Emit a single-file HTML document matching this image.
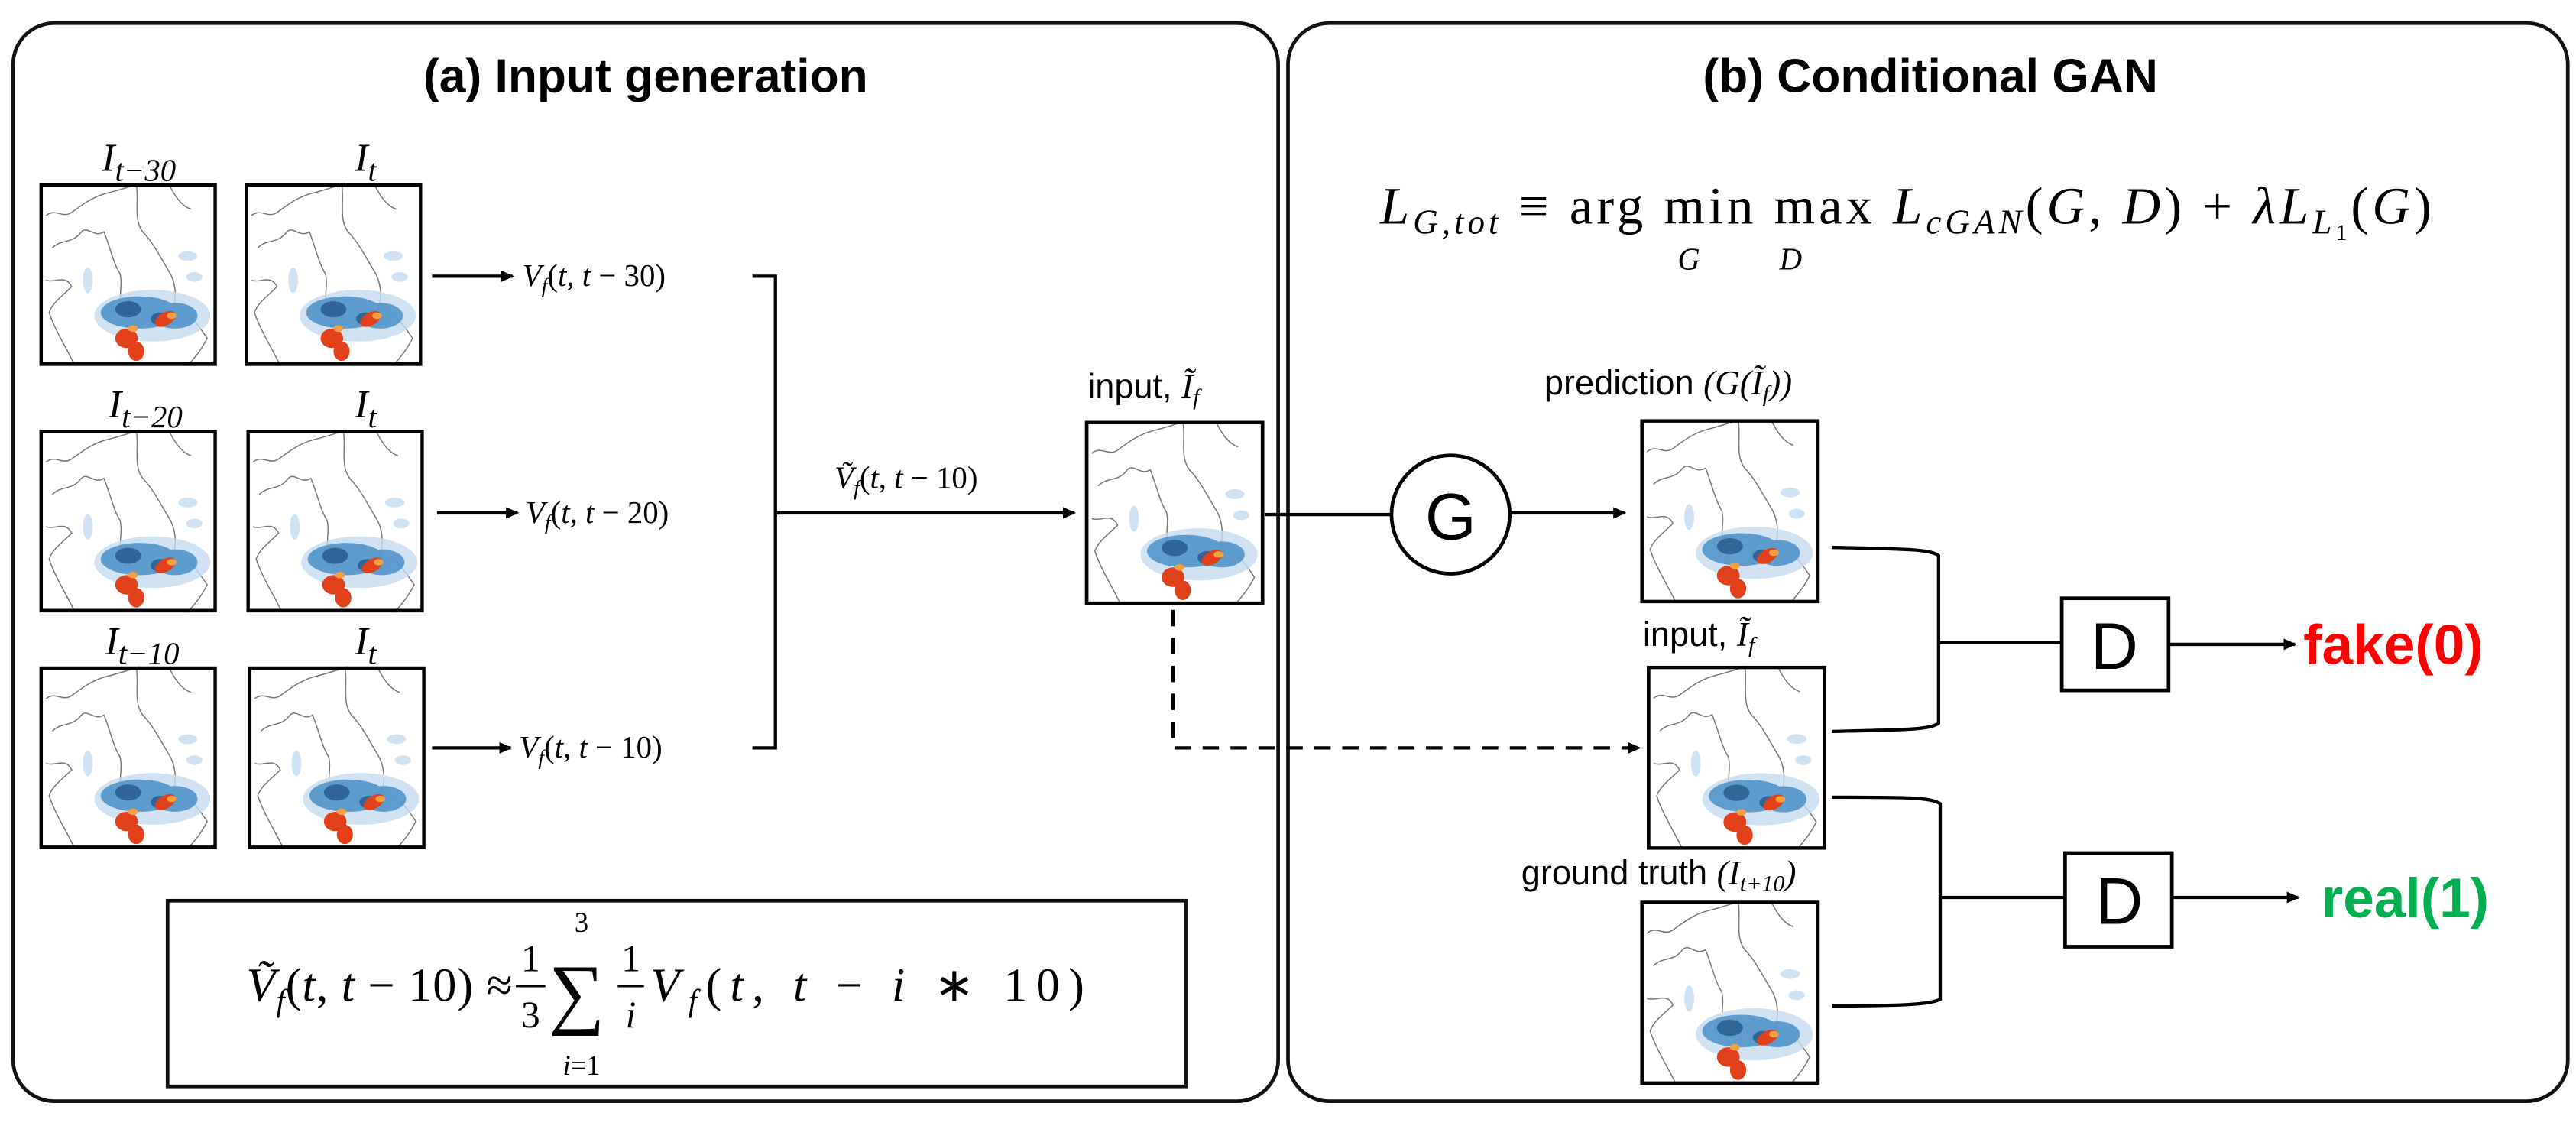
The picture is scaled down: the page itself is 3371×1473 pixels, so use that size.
<!DOCTYPE html>
<html><head><meta charset="utf-8"><style>
html,body{margin:0;padding:0;background:#fff;}
svg{display:block;}
.t{font-family:"Liberation Sans",sans-serif;font-weight:bold;}
.m{font-family:"Liberation Serif",serif;}
.s{font-family:"Liberation Sans",sans-serif;}
</style></head><body>
<svg width="3371" height="1473" viewBox="0 0 1568 685" xmlns="http://www.w3.org/2000/svg">
<defs>
<marker id="ah" markerWidth="8" markerHeight="8" refX="7" refY="4" orient="auto" markerUnits="userSpaceOnUse"><path d="M0,0.5 L8,4 L0,7.5 z" fill="#000"/></marker>
<symbol id="map" viewBox="0 0 110 113">
<rect x="0" y="0" width="110" height="113" fill="#fff"/>
<g fill="none" stroke="#777" stroke-width="0.7">
<path d="M4,20 C10,15 14,22 20,18 C28,12 34,8 42,6 C50,4 56,2 62,0"/>
<path d="M8,40 C14,34 20,38 26,30 C30,26 34,34 40,30 C44,40 46,50 50,56 C52,64 48,72 52,80 C54,88 58,94 60,100"/>
<path d="M60,0 C62,10 58,22 64,30 C70,36 74,44 80,54 C84,60 86,70 82,80"/>
<path d="M4,60 C10,62 16,56 20,64 C14,70 8,74 6,80 C10,92 18,104 22,113"/>
<path d="M90,80 C96,84 100,90 104,96 C100,104 96,108 92,113"/>
<path d="M80,0 C84,8 88,14 94,16"/>
</g>
<g fill="#c6dbef" opacity="0.8">
<ellipse cx="70" cy="82" rx="36" ry="16"/>
<ellipse cx="92" cy="45" rx="6" ry="3"/><ellipse cx="96" cy="58" rx="5" ry="3"/>
<ellipse cx="30" cy="60" rx="3" ry="8"/>
</g>
<g fill="#4a90c8" opacity="0.85">
<ellipse cx="62" cy="80" rx="24" ry="10"/>
<ellipse cx="84" cy="82" rx="14" ry="8"/>
</g>
<g fill="#1f4f80" opacity="0.7"><ellipse cx="55" cy="78" rx="8" ry="5"/><ellipse cx="75" cy="84" rx="6" ry="4"/></g>
<g fill="#e0401a">
<ellipse cx="54" cy="96" rx="7" ry="6"/><ellipse cx="78" cy="84" rx="7" ry="4" transform="rotate(-30 78 84)"/>
<ellipse cx="60" cy="104" rx="5" ry="6"/>
</g>
<g fill="#f4a040"><ellipse cx="82" cy="82" rx="3" ry="2"/><ellipse cx="58" cy="90" rx="3" ry="2"/></g>
<rect x="1" y="1" width="108" height="111" fill="none" stroke="#000" stroke-width="2.2"/>
</symbol>
</defs>
<rect width="1568" height="685" fill="#fff"/>
<rect x="8" y="14" width="770" height="656" rx="25" fill="none" stroke="#111" stroke-width="2.2"/>
<rect x="784" y="14" width="779" height="656" rx="25" fill="none" stroke="#111" stroke-width="2.2"/>
<text class="t" x="393" y="56" font-size="29" text-anchor="middle">(a) Input generation</text>
<text class="t" x="1175" y="56" font-size="29" text-anchor="middle">(b) Conditional GAN</text>
<use href="#map" x="24" y="111" width="108" height="112"/>
<use href="#map" x="149" y="111" width="108" height="112"/>
<use href="#map" x="24" y="261" width="108" height="112"/>
<use href="#map" x="150" y="261" width="108" height="112"/>
<use href="#map" x="24" y="405" width="108" height="112"/>
<use href="#map" x="151" y="405" width="108" height="112"/>
<g class="m" font-style="italic" font-size="24">
<text x="62" y="104">I<tspan font-size="19" dy="6">t−30</tspan></text>
<text x="216" y="104">I<tspan font-size="19" dy="6">t</tspan></text>
<text x="66" y="254">I<tspan font-size="19" dy="6">t−20</tspan></text>
<text x="216" y="254">I<tspan font-size="19" dy="6">t</tspan></text>
<text x="64" y="398">I<tspan font-size="19" dy="6">t−10</tspan></text>
<text x="216" y="398">I<tspan font-size="19" dy="6">t</tspan></text>
</g>
<g stroke="#000" stroke-width="2" fill="none">
<line x1="263" y1="168" x2="312" y2="168" marker-end="url(#ah)"/>
<line x1="266" y1="312" x2="315" y2="312" marker-end="url(#ah)"/>
<line x1="263" y1="455" x2="311" y2="455" marker-end="url(#ah)"/>
<path d="M458,168 L472,168 L472,455 L458,455"/>
<line x1="472" y1="312" x2="654" y2="312" marker-end="url(#ah)"/>
<path d="M714,371 L714,455 L998,455" stroke-dasharray="10,7" marker-end="url(#ah)"/>
</g>
<g class="m" font-size="19">
<text x="318" y="174"><tspan font-style="italic">V<tspan font-size="13" dy="4">f</tspan></tspan><tspan dy="-4">(</tspan><tspan font-style="italic">t</tspan>, <tspan font-style="italic">t</tspan> − 30)</text>
<text x="320" y="318"><tspan font-style="italic">V<tspan font-size="13" dy="4">f</tspan></tspan><tspan dy="-4">(</tspan><tspan font-style="italic">t</tspan>, <tspan font-style="italic">t</tspan> − 20)</text>
<text x="316" y="461"><tspan font-style="italic">V<tspan font-size="13" dy="4">f</tspan></tspan><tspan dy="-4">(</tspan><tspan font-style="italic">t</tspan>, <tspan font-style="italic">t</tspan> − 10)</text>
<text x="508" y="297"><tspan font-style="italic">Ṽ<tspan font-size="13" dy="4">f</tspan></tspan><tspan dy="-4">(</tspan><tspan font-style="italic">t</tspan>, <tspan font-style="italic">t</tspan> − 10)</text>
</g>
<use href="#map" x="660" y="256" width="110" height="112"/>
<text class="s" x="662" y="242" font-size="21">input, <tspan class="m" font-style="italic">Ĩ<tspan font-size="14" dy="4">f</tspan></tspan></text>
<rect x="102" y="548" width="620" height="113" fill="none" stroke="#111" stroke-width="2.2"/>
<g class="m" font-size="29">
<text x="150" y="609" textLength="162" lengthAdjust="spacing"><tspan font-style="italic">Ṽ<tspan font-size="19" dy="6">f</tspan></tspan><tspan dy="-6">(</tspan><tspan font-style="italic">t</tspan>, <tspan font-style="italic">t</tspan> − 10) ≈</text>
<text x="323" y="591" font-size="23" text-anchor="middle">1</text>
<line x1="314" y1="600" x2="332" y2="600" stroke="#000" stroke-width="1.3"/>
<text x="323" y="625" font-size="23" text-anchor="middle">3</text>
<text x="334" y="620" font-size="48">∑</text>
<text x="354" y="567" font-size="17" text-anchor="middle">3</text>
<text x="354" y="654" font-size="17" text-anchor="middle"><tspan font-style="italic">i</tspan>=1</text>
<text x="384" y="591" font-size="23" text-anchor="middle">1</text>
<line x1="376" y1="600" x2="392" y2="600" stroke="#000" stroke-width="1.3"/>
<text x="384" y="625" font-size="23" text-anchor="middle" font-style="italic">i</text>
<text x="396" y="609" textLength="264" lengthAdjust="spacing"><tspan font-style="italic">V<tspan font-size="19" dy="6">f</tspan></tspan><tspan dy="-6">(</tspan><tspan font-style="italic">t</tspan>, <tspan font-style="italic">t</tspan> − <tspan font-style="italic">i</tspan> ∗ 10)</text>
</g>
<g class="m" font-size="32">
<text x="840" y="136" textLength="640" lengthAdjust="spacing"><tspan font-style="italic">L<tspan font-size="21" dy="6">G,tot</tspan></tspan><tspan dy="-6"> ≡ arg min max </tspan><tspan font-style="italic">L<tspan font-size="21" dy="6">cGAN</tspan></tspan><tspan dy="-6">(</tspan><tspan font-style="italic">G</tspan>, <tspan font-style="italic">D</tspan>) +  <tspan font-style="italic">λL<tspan font-size="21" dy="6">L</tspan></tspan><tspan font-size="14" dy="4">1</tspan><tspan dy="-10">(</tspan><tspan font-style="italic">G</tspan>)</text>
<text x="1028" y="164" font-size="19" font-style="italic" text-anchor="middle">G</text>
<text x="1090" y="164" font-size="19" font-style="italic" text-anchor="middle">D</text>
</g>
<g stroke="#000" stroke-width="2" fill="none">
<line x1="770" y1="313" x2="847" y2="313"/>
<circle cx="883" cy="313" r="36" stroke-width="2.2"/>
<line x1="919" y1="312" x2="989" y2="312" marker-end="url(#ah)"/>
<path d="M1115,333 C1160,334 1175,334 1180,338 L1180,440 C1175,444 1160,444 1115,445"/>
<line x1="1180" y1="391" x2="1255" y2="391"/>
<line x1="1320" y1="392" x2="1397" y2="392" marker-end="url(#ah)"/>
<path d="M1115,485 C1160,485 1175,485 1181,489 L1181,608 C1175,611 1160,612 1115,612"/>
<line x1="1181" y1="546" x2="1257" y2="546"/>
<line x1="1322" y1="546" x2="1399" y2="546" marker-end="url(#ah)"/>
<rect x="1255" y="364" width="65" height="56" stroke-width="2.2"/>
<rect x="1257" y="519" width="65" height="57" stroke-width="2.2"/>
</g>
<text class="s" x="883" y="328" font-size="40" text-anchor="middle">G</text>
<text class="s" x="1287" y="407" font-size="40" text-anchor="middle">D</text>
<text class="s" x="1290" y="562" font-size="40" text-anchor="middle">D</text>
<text class="t" x="1402" y="404" font-size="34" fill="#ff0000">fake(0)</text>
<text class="t" x="1413" y="558" font-size="34" fill="#00b050">real(1)</text>
<use href="#map" x="998" y="255" width="110" height="112"/>
<use href="#map" x="1002" y="405" width="110" height="112"/>
<use href="#map" x="998" y="548" width="110" height="112"/>
<g class="s" font-size="21">
<text x="940" y="240">prediction <tspan class="m" font-style="italic">(G(Ĩ<tspan font-size="14" dy="4">f</tspan><tspan dy="-4">))</tspan></tspan></text>
<text x="1000" y="393">input, <tspan class="m" font-style="italic">Ĩ<tspan font-size="14" dy="4">f</tspan></tspan></text>
<text x="926" y="538">ground truth <tspan class="m" font-style="italic">(I<tspan font-size="14" dy="4">t+10</tspan><tspan dy="-4">)</tspan></tspan></text>
</g>
</svg>
</body></html>
